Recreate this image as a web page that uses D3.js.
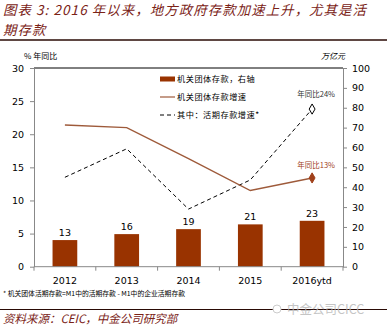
<!DOCTYPE html>
<html><head><meta charset="utf-8">
<script src="https://cdn.jsdelivr.net/npm/d3@7"></script>
<style>
body{margin:0;background:#fff;}
svg{display:block;}
</style></head>
<body>
<svg id="c" width="387" height="330"></svg>
<script>
const categories = ["2012","2013","2014","2015","2016ytd"];
const deposits = [13.4, 16.4, 18.9, 21.3, 23.1];          // 万亿元, right axis
const depositGrowth = [21.4, 21.0, 16.3, 11.5, 13.4];     // % yoy, left axis
const demandGrowth = [13.5, 17.8, 8.7, 13.1, 23.8];       // % yoy, left axis
const leftTicks = [0,5,10,15,20,25,30];
const rightTicks = [0,10,20,30,40,50,60,70,80,90,100];
const legendLabels = ["机关团体存款，右轴","机关团体存款增速","其中：活期存款增速*"];
const annotations = ["年同比24%","年同比13%"];
const titleLines = ["图表 3: 2016 年以来，地方政府存款加速上升，尤其是活","期存款"];
const footnote = "* 机关团体活期存款=M1中的活期存款 - M1中的企业活期存款";
const source = "资料来源：CEIC，中金公司研究部";

const svg = d3.select("#c");
const CJK = "'Noto Sans CJK SC', sans-serif";
const NUM = "'DejaVu Sans', 'Noto Sans CJK SC', sans-serif";
const titleColor = "#7a2216";
const barColor = "#993300";
const lineColor = "#9e5a3a";

const L = 34, R = 343, T = 68, B = 266.7;

const x = d3.scaleBand().domain(categories).range([L, R]).paddingInner(0.6).paddingOuter(0.3);
const yL = d3.scaleLinear().domain([0,30]).range([B, T]);
const yR = d3.scaleLinear().domain([0,100]).range([B, T]);
const cx = d => x(d) + x.bandwidth()/2;

// Title
svg.selectAll("text.title").data(titleLines).join("text")
  .attr("class","title")
  .attr("x", 3).attr("y", (d,i) => 15 + i*19.8)
  .attr("font-family", CJK).attr("font-size", 13.4).attr("font-style","italic")
  .attr("letter-spacing", 1.1)
  .attr("fill", titleColor).text(d => d);
svg.append("line").attr("x1",0).attr("x2",387).attr("y1",40).attr("y2",40)
  .attr("stroke","#2a0a05").attr("stroke-width",1.3);

// Top frame line
svg.append("line").attr("x1",L).attr("x2",R).attr("y1",T).attr("y2",T).attr("stroke","#000").attr("stroke-width",1);

// Bars
svg.append("g").selectAll("rect").data(categories).join("rect")
  .attr("x", d => x(d)).attr("width", x.bandwidth())
  .attr("y", (d,i) => yR(deposits[i])).attr("height", (d,i) => B - yR(deposits[i]))
  .attr("fill", barColor);
svg.append("g").selectAll("text").data(categories).join("text")
  .attr("x", d => cx(d)).attr("y", (d,i) => yR(deposits[i]) - 4)
  .attr("text-anchor","middle").attr("font-family",NUM).attr("font-size",9.5).attr("fill","#000")
  .text((d,i) => d3.format(".0f")(deposits[i]));

// Axes
const axisStyle = g => {
  g.selectAll(".domain").attr("stroke","#888");
  g.selectAll(".tick line").attr("stroke","#888");
  g.selectAll(".tick text").attr("font-family",NUM).attr("font-size",9.5).attr("fill","#000");
};
svg.append("g").attr("transform",`translate(${L},0)`)
  .call(d3.axisLeft(yL).tickValues(leftTicks).tickSize(4).tickSizeOuter(0).tickPadding(6))
  .call(axisStyle);
svg.append("g").attr("transform",`translate(${R},0)`)
  .call(d3.axisRight(yR).tickValues(rightTicks).tickSize(4).tickSizeOuter(0).tickPadding(5))
  .call(axisStyle);
const xg = svg.append("g").attr("transform",`translate(0,${B})`)
  .call(d3.axisBottom(x).tickSize(0).tickPadding(11)).call(axisStyle);
xg.select(".domain").attr("d", `M${L},0H${R}`);
const step = x.step();
const bounds = d3.range(categories.length+1).map(i => L + i*step);
xg.selectAll("line.sep").data(bounds).join("line").attr("class","sep")
  .attr("x1",d=>d).attr("x2",d=>d).attr("y1",0).attr("y2",4).attr("stroke","#888");

// Lines
const lineL = d3.line().x((d,i) => cx(categories[i])).y(d => yL(d));
svg.append("path").datum(demandGrowth).attr("d", lineL)
  .attr("fill","none").attr("stroke","#000").attr("stroke-width",1).attr("stroke-dasharray","4,3");
svg.append("path").datum(depositGrowth).attr("d", lineL)
  .attr("fill","none").attr("stroke",lineColor).attr("stroke-width",1.4);

const diamond = d3.symbol().type(d3.symbolDiamond).size(30);
const last = categories.length - 1;
svg.append("path").attr("d", diamond)
  .attr("transform", `translate(${cx(categories[last])},${yL(demandGrowth[last])})`)
  .attr("fill","#fff").attr("stroke","#000").attr("stroke-width",1);
svg.append("path").attr("d", diamond)
  .attr("transform", `translate(${cx(categories[last])},${yL(depositGrowth[last])})`)
  .attr("fill","#a0401a").attr("stroke","#a0401a");

// Annotations
svg.append("text").attr("x", cx(categories[last])+4).attr("y", yL(demandGrowth[last]) - 12)
  .attr("text-anchor","middle").attr("font-family",CJK).attr("font-size",7.5).attr("fill","#333")
  .text(annotations[0]);
svg.append("text").attr("x", cx(categories[last])+4).attr("y", yL(depositGrowth[last]) - 10)
  .attr("text-anchor","middle").attr("font-family",CJK).attr("font-size",7.5).attr("fill","#a0401a")
  .text(annotations[1]);

// Legend
const lg = svg.append("g");
const ly = [79, 97, 115];
lg.append("rect").attr("x",160).attr("y",ly[0]-2.5).attr("width",15).attr("height",5).attr("fill",barColor);
lg.append("line").attr("x1",160).attr("x2",175).attr("y1",ly[1]).attr("y2",ly[1]).attr("stroke",lineColor).attr("stroke-width",1.2);
lg.append("line").attr("x1",160).attr("x2",175).attr("y1",ly[2]).attr("y2",ly[2]).attr("stroke","#000").attr("stroke-width",1).attr("stroke-dasharray","4,3");
lg.selectAll("text").data(legendLabels).join("text")
  .attr("x",177).attr("y",(d,i)=>ly[i]+3).attr("font-family",CJK).attr("font-size",8.2).attr("fill","#000")
  .attr("letter-spacing",0.5).text(d=>d);

// Axis titles
svg.append("text").attr("x",24).attr("y",59).attr("font-family",CJK).attr("font-size",8).attr("fill","#000").text("% 年同比");
svg.append("text").attr("x",321).attr("y",59).attr("font-family",CJK).attr("font-size",8).attr("font-style","italic").attr("fill","#000").text("万亿元");

// Footnote
svg.append("text").attr("x",3).attr("y",295.5).attr("font-family",CJK).attr("font-size",6.8).attr("fill","#000").text(footnote);

// Source line + watermark
svg.append("line").attr("x1",0).attr("x2",387).attr("y1",309.5).attr("y2",309.5).attr("stroke","#2a0a05").attr("stroke-width",1);
svg.append("text").attr("x",287).attr("y",314).attr("font-family",CJK).attr("font-size",12.5).attr("fill","#bbb").attr("opacity",0.85).text("中金公司CICC");
svg.append("circle").attr("cx",277).attr("cy",309).attr("r",4).attr("fill","#fff").attr("stroke","#ccc");
svg.append("text").attr("x",3).attr("y",323).attr("font-family",CJK).attr("font-size",11.5).attr("font-style","italic")
  .attr("fill",titleColor).text(source);
</script>
</body></html>
